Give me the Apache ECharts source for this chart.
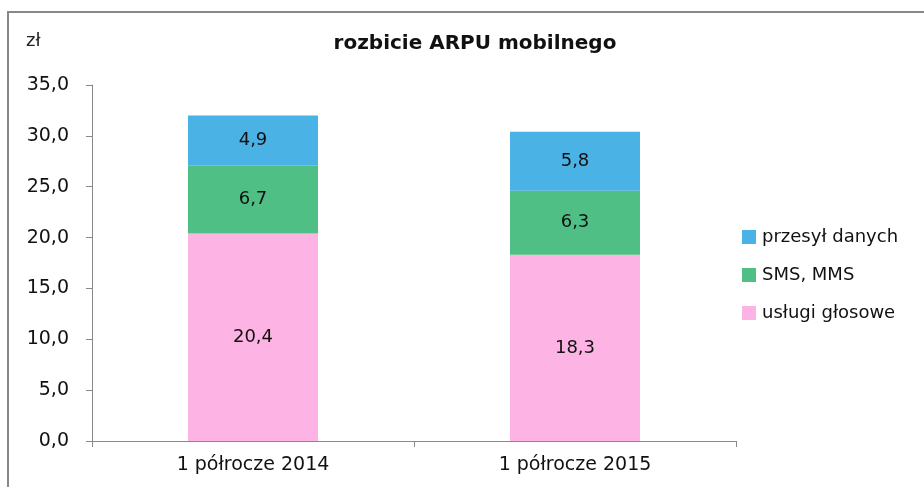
<!DOCTYPE html>
<html><head><meta charset="utf-8">
<script src="https://cdn.jsdelivr.net/npm/echarts@6/dist/echarts.min.js"></script>
<style>html,body{margin:0;padding:0;background:#fff}#c{width:924px;height:487px}</style>
</head><body><div id="c"></div>
<script>
const categories = ['1 półrocze 2014', '1 półrocze 2015'];
const voice = [20.4, 18.3];
const sms = [6.7, 6.3];
const data = [4.9, 5.8];
const seriesNames = ['usługi głosowe', 'SMS, MMS', 'przesył danych'];
const yTicks = [0, 5, 10, 15, 20, 25, 30, 35];

const font = '"DejaVu Sans", sans-serif';
const fmt = v => v.toFixed(1).replace('.', ',');
const chart = echarts.init(document.getElementById('c'));
const lbl = {show: true, position: 'inside', color: '#111', fontSize: 18, fontFamily: font, formatter: p => fmt(p.value)};
chart.setOption({
  animation: false,
  title: {text: 'rozbicie ARPU mobilnego', left: 470, top: 29, textAlign: 'center',
    textStyle: {fontSize: 20, fontWeight: 'bold', fontFamily: font, color: '#111'}},
  graphic: [
    {type: 'rect', shape: {x: 8, y: 12, width: 1000, height: 1000}, style: {fill: 'none', stroke: '#888', lineWidth: 2}},
    {type: 'text', left: 26, top: 32, style: {text: 'zł', fontSize: 18, fontFamily: font, fill: '#222'}}
  ],
  legend: {
    orient: 'vertical', left: 737, top: 223, itemGap: 20, itemWidth: 14, itemHeight: 14,
    data: [seriesNames[2], seriesNames[1], seriesNames[0]],
    textStyle: {fontSize: 18, fontFamily: font, color: '#111', padding: [0, 0, 0, 1]},
    icon: 'rect'
  },
  grid: {left: 92, right: 188, top: 85, bottom: 46},
  xAxis: {
    type: 'category', data: categories,
    axisLine: {lineStyle: {color: '#888'}},
    axisTick: {show: true, length: 6, lineStyle: {color: '#888'}},
    axisLabel: {fontSize: 19, fontFamily: font, color: '#111', margin: 15}
  },
  yAxis: {
    type: 'value', min: 0, max: 35, interval: 5,
    axisLine: {show: true, lineStyle: {color: '#888'}},
    axisTick: {show: true, length: 6, lineStyle: {color: '#888'}},
    splitLine: {show: false},
    axisLabel: {fontSize: 19, fontFamily: font, color: '#111', margin: 23, formatter: v => yTicks.includes(v) ? fmt(v) : ''}
  },
  series: [
    {name: seriesNames[0], type: 'bar', stack: 's', data: voice, barWidth: 130, itemStyle: {color: '#FDB3E3'}, label: lbl},
    {name: seriesNames[1], type: 'bar', stack: 's', data: sms, itemStyle: {color: '#50BF86'}, label: lbl},
    {name: seriesNames[2], type: 'bar', stack: 's', data: data, itemStyle: {color: '#4BB2E6'}, label: lbl}
  ]
});
</script></body></html>
